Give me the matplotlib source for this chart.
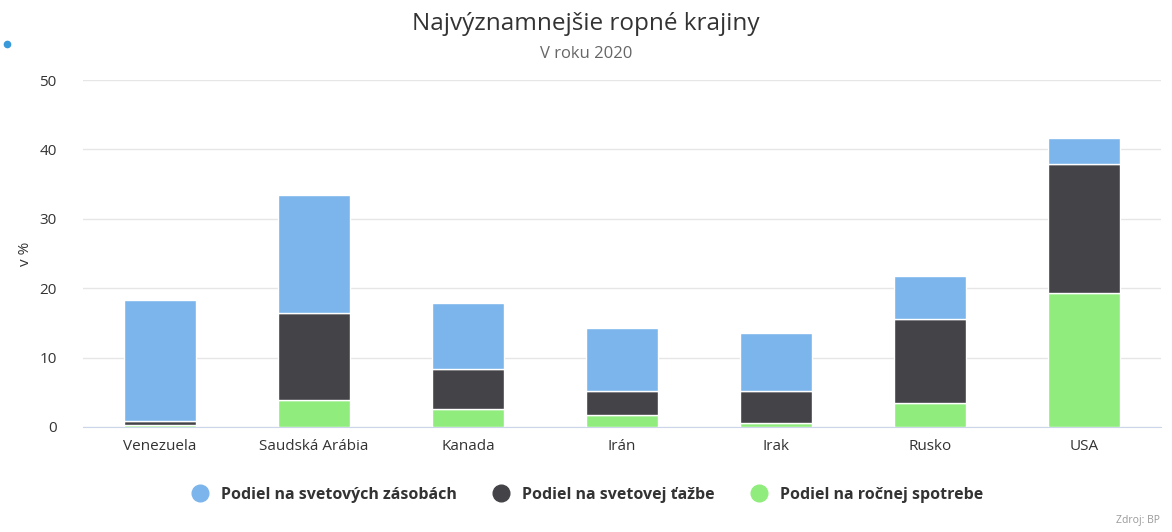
import numpy as np
import matplotlib
matplotlib.use('Agg')
import matplotlib.pyplot as plt
from matplotlib.lines import Line2D

plt.rcParams['font.family'] = ['Open Sans', 'DejaVu Sans']

# data
countries = ['Venezuela', 'Saudská Arábia', 'Kanada', 'Irán', 'Irak', 'Rusko', 'USA']
zasoby = [17.4, 17.1, 9.5, 9.0, 8.4, 6.1, 3.8]      # Podiel na svetových zásobách
tazba = [0.6, 12.5, 5.8, 3.4, 4.6, 12.1, 18.6]      # Podiel na svetovej ťažbe
spotreba = [0.3, 3.9, 2.6, 1.8, 0.6, 3.5, 19.3]     # Podiel na ročnej spotrebe
seriesNames = ['Podiel na svetových zásobách', 'Podiel na svetovej ťažbe',
               'Podiel na ročnej spotrebe']
colorL = ['#7cb5ec', '#434348', '#90ed7d']

fig = plt.figure(figsize=(11.72, 5.32), dpi=100)
ax = fig.add_axes([83/1172, 1-427/532, 1078/1172, 347/532])

x = np.arange(len(countries))
w = 0.47
sp = np.array(spotreba)
ta = np.array(tazba)
ax.bar(x, sp, w, color=colorL[2], edgecolor='white', linewidth=1, zorder=3)
ax.bar(x, ta, w, bottom=sp, color=colorL[1], edgecolor='white', linewidth=1, zorder=3)
ax.bar(x, zasoby, w, bottom=sp+ta, color=colorL[0], edgecolor='white', linewidth=1, zorder=3)

ax.set_xlim(-0.5, len(countries)-0.5)
ax.set_ylim(0, 50)
ax.set_yticks(np.arange(0, 51, 10))
ax.set_xticks(x)
ax.set_xticklabels(countries)
ax.grid(axis='y', color='#e6e6e6', linewidth=1, zorder=0)
for s in ['top', 'right', 'left']:
    ax.spines[s].set_visible(False)
ax.spines['bottom'].set_color('#ccd6eb')
ax.tick_params(axis='x', length=0, pad=9, labelsize=11, labelcolor='#333333')
ax.tick_params(axis='y', length=0, pad=19, labelsize=11, labelcolor='#333333')
ax.set_ylabel('v %', fontsize=11, color='#333333')
ax.yaxis.set_label_coords(-50/1078, 0.5)

fig.text(0.5, 1-24/532, 'Najvýznamnejšie ropné krajiny', ha='center', va='center',
         fontsize=17.5, color='#333333')
fig.text(0.5, 1-54/532, 'V roku 2020', ha='center', va='center',
         fontsize=12, color='#666666')
fig.text(1-12/1172, 1-521/532, 'Zdroj: BP', ha='right', va='center',
         fontsize=7.5, color='#999999')
fig.add_artist(Line2D([7/1172], [1-44/532], marker='o', markersize=4.5, linestyle='none',
                      color='#3a9ad9', transform=fig.transFigure))

handles = [Line2D([], [], marker='o', linestyle='none', markersize=12,
                  markerfacecolor=c, markeredgecolor=c) for c in colorL]
leg = fig.legend(handles, seriesNames, ncol=3, loc='center', bbox_to_anchor=(0.498, 1-495/532),
                 frameon=False, handletextpad=0.3, columnspacing=1.8,
                 prop={'weight': 'bold', 'size': 11.5})
for t in leg.get_texts():
    t.set_color('#333333')

plt.savefig('out.png', dpi=100)
